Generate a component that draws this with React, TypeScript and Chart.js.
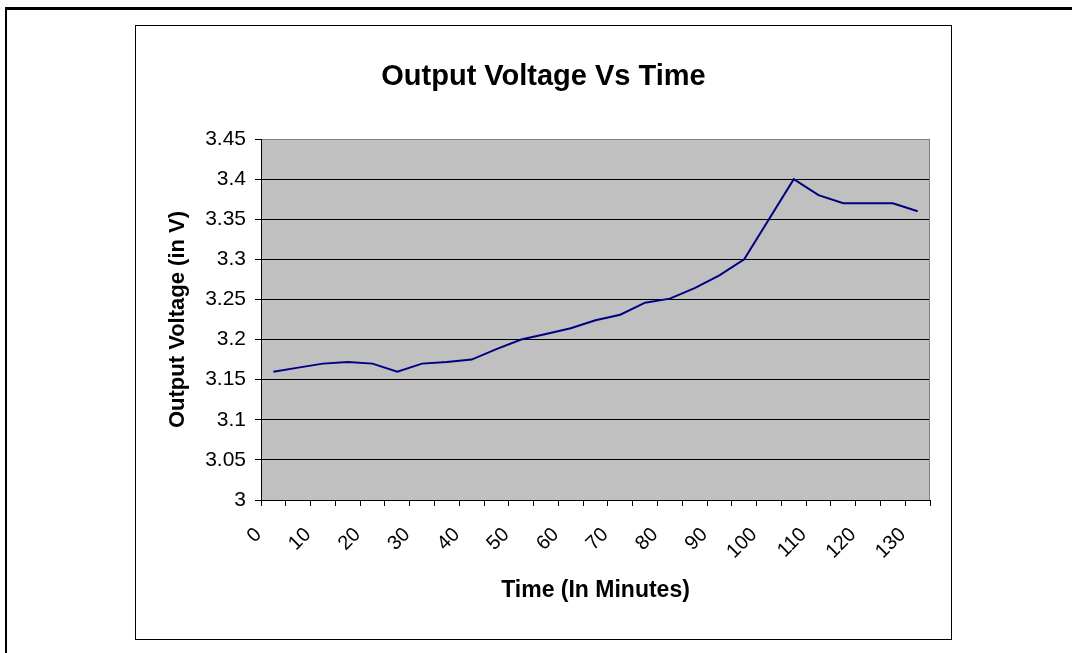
import React, { useEffect, useRef } from "react";
import { Chart, registerables } from "chart.js";

Chart.register(...registerables);

const timeLabels = ["0","5","10","15","20","25","30","35","40","45","50","55","60","65","70","75","80","85","90","95","100","105","110","115","120","125","130"];
const voltage = [3.16, 3.165, 3.17, 3.172, 3.17, 3.16, 3.17, 3.172, 3.175, 3.188, 3.2, 3.207, 3.214, 3.224, 3.231, 3.246, 3.251, 3.264, 3.28, 3.3, 3.35, 3.4, 3.38, 3.37, 3.37, 3.37, 3.36];
const yTicks = [3, 3.05, 3.1, 3.15, 3.2, 3.25, 3.3, 3.35, 3.4, 3.45];

const chartTitle = "Output Voltage Vs Time";
const xTitle = "Time (In Minutes)";
const yTitle = "Output Voltage (in V)";

const FONT = "'Liberation Sans', Arial, sans-serif";

export default function App() {
  const ref = useRef<HTMLCanvasElement | null>(null);

  useEffect(() => {
    const canvas = ref.current;
    if (!canvas) return;
    const bgPlugin = {
      id: "excelBg",
      beforeDraw(chart: any) {
        const { ctx, chartArea: a, width, height } = chart;
        ctx.save();
        ctx.fillStyle = "#ffffff";
        ctx.fillRect(0, 0, width, height);
        ctx.fillStyle = "#C0C0C0";
        ctx.fillRect(a.left, a.top, a.right - a.left, a.bottom - a.top);
        ctx.restore();
      },
      beforeDatasetsDraw(chart: any) {
        const { ctx, chartArea: a } = chart;
        ctx.save();
        ctx.strokeStyle = "#808080";
        ctx.lineWidth = 1;
        ctx.beginPath();
        ctx.moveTo(Math.round(a.right) - 0.5, a.top);
        ctx.lineTo(Math.round(a.right) - 0.5, a.bottom);
        ctx.stroke();
        ctx.restore();
      },
      afterDraw(chart: any) {
        const { ctx, width, height } = chart;
        ctx.save();
        ctx.strokeStyle = "#000";
        ctx.lineWidth = 1;
        ctx.strokeRect(0.5, 0.5, width - 1, height - 1);
        ctx.restore();
      },
    };

    const chart = new Chart(canvas, {
      type: "line",
      data: {
        labels: timeLabels,
        datasets: [
          {
            data: voltage,
            borderColor: "#000080",
            borderWidth: 2,
            pointRadius: 0,
            tension: 0,
            fill: false,
          },
        ],
      },
      options: {
        responsive: false,
        animation: false,
        layout: { padding: { left: 21, right: 21, top: 0, bottom: 0 } },
        plugins: {
          legend: { display: false },
          tooltip: { enabled: false },
          title: {
            display: true,
            text: chartTitle,
            color: "#000",
            font: { family: FONT, size: 29, weight: "bold" },
            padding: { top: 35, bottom: 44.2 },
          },
        },
        scales: {
          x: {
            type: "category",
            offset: true,
            grid: {
              offset: true,
              drawOnChartArea: false,
              drawTicks: true,
              tickLength: 6,
              color: "#000",
              tickColor: "#000",
            },
            border: { display: true, color: "#000", width: 1 },
            ticks: {
              autoSkip: false,
              minRotation: 45,
              maxRotation: 45,
              padding: 17,
              labelOffset: -15,
              color: "#000",
              font: { family: FONT, size: 20 },
              callback: (_v: any, i: number) => (i % 2 === 0 ? timeLabels[i] : ""),
            },
            title: {
              display: true,
              text: xTitle,
              color: "#000",
              font: { family: FONT, size: 23, weight: "bold" },
              padding: { top: 0, bottom: 36 },
            },
            afterFit: (s: any) => {
              s.height = 140;
            },
          },
          y: {
            min: 3,
            max: 3.45,
            grid: {
              color: (c: any) => (c.tick && Math.abs(c.tick.value - 3.45) < 1e-9 ? "#808080" : "#000"),
              tickColor: "#000",
              tickLength: 6,
              drawTicks: true,
            },
            border: { display: true, color: "#000", width: 1 },
            afterBuildTicks: (s: any) => {
              s.ticks = yTicks.map((v) => ({ value: v }));
            },
            ticks: {
              padding: 9,
              color: "#000",
              font: { family: FONT, size: 21 },
              callback: (v: any) => String(Math.round(Number(v) * 100) / 100),
            },
            title: {
              display: true,
              text: yTitle,
              color: "#000",
              font: { family: FONT, size: 22, weight: "bold" },
              padding: { top: 9, bottom: 0 },
            },
            afterFit: (s: any) => {
              s.width = 105;
            },
          },
        },
      },
      plugins: [bgPlugin],
    } as any);
    return () => chart.destroy();
  }, []);

  return (
    <div style={{ position: "fixed", left: 0, top: 0, width: 1072, height: 653, overflow: "hidden", background: "#fff" }}>
      <div
        style={{
          position: "absolute",
          left: 5,
          top: 7,
          width: 1072 - 5,
          height: 653 - 7,
          borderLeft: "2px solid #000",
          borderTop: "3px solid #000",
          boxSizing: "border-box",
        }}
      />
      <canvas
        ref={ref}
        width={817}
        height={615}
        style={{ position: "absolute", left: 135, top: 25, width: 817, height: 615 }}
      />
    </div>
  );
}
